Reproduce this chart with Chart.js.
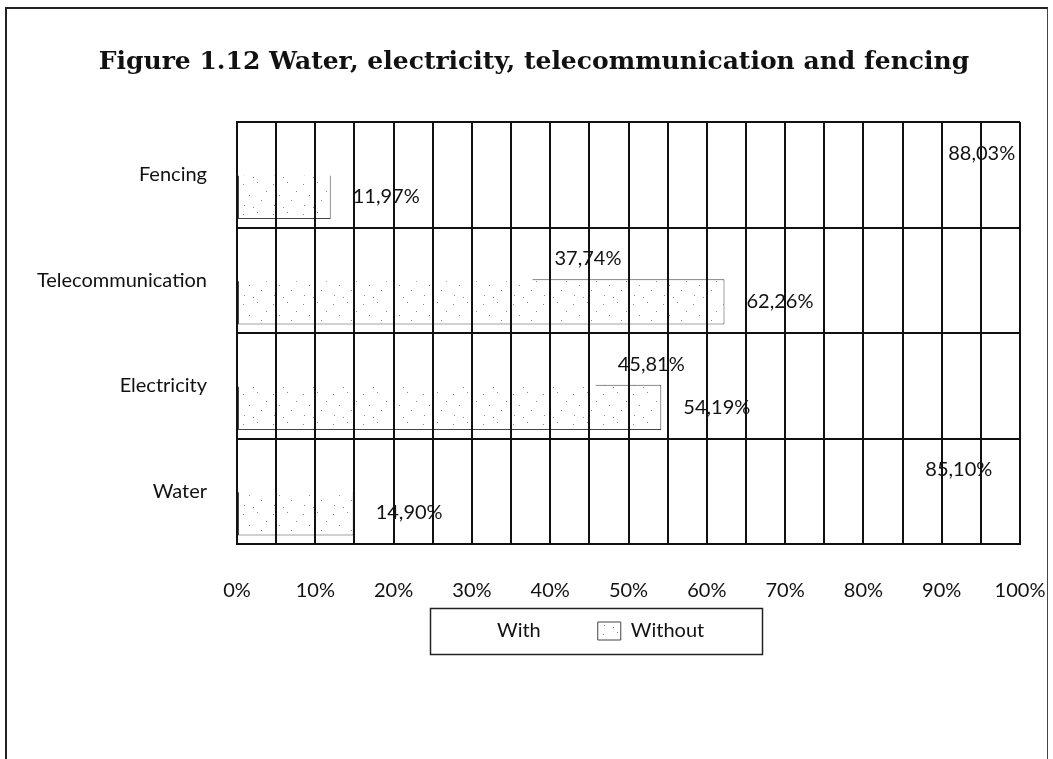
<!DOCTYPE html>
<html>
<head>
<meta charset="utf-8">
<script src="https://cdn.jsdelivr.net/npm/chart.js@4.4.1/dist/chart.umd.min.js"></script>
<style>
  html, body { margin: 0; padding: 0; background: #fff; }
  #wrap { position: relative; width: 1053px; height: 759px; overflow: hidden; }
  #frame { position: absolute; left: 5px; top: 7px; width: 1040px; height: 800px;
           border-top: 2px solid #222; border-left: 2px solid #222; border-right: 1px solid #444; }
  canvas { position: absolute; left: 0; top: 0; }
</style>
</head>
<body>
<div id="wrap">
  <div id="frame"></div>
  <canvas id="c" width="1053" height="759"></canvas>
</div>
<script>
const titleText = 'Figure 1.12 Water, electricity, telecommunication and fencing';
const categories = ['Fencing', 'Telecommunication', 'Electricity', 'Water'];
const withValues = [88.03, 37.74, 45.81, 85.10];
const withoutValues = [11.97, 62.26, 54.19, 14.90];
const seriesNames = ['With', 'Without'];
const xTickValues = [0, 10, 20, 30, 40, 50, 60, 70, 80, 90, 100];

// sparse stipple pattern for the "Without" bars
function makeStipple() {
  const c = document.createElement('canvas');
  c.width = 30; c.height = 30;
  const g = c.getContext('2d');
  g.fillStyle = '#ffffff';
  g.fillRect(0, 0, 30, 30);
  const dots = [[3,4],[17,2],[26,11],[9,15],[21,20],[4,25],[13,27]];
  g.fillStyle = '#8a8a8a';
  dots.forEach(d => g.fillRect(d[0], d[1], 1, 1));
  return g.createPattern(c, 'repeat');
}
const stipple = makeStipple();

const FONT = 'Lato, "Open Sans", sans-serif';
const FS = 20;

const valueLabels = {
  id: 'valueLabels',
  afterDatasetsDraw(chart) {
    const ctx = chart.ctx;
    ctx.save();
    ctx.font = FS + 'px ' + FONT;
    ctx.fillStyle = '#111';
    ctx.textBaseline = 'middle';
    ctx.textAlign = 'left';
    chart.data.datasets.forEach((ds, i) => {
      chart.getDatasetMeta(i).data.forEach((el, j) => {
        const v = ds.data[j];
        const txt = v.toFixed(2).replace('.', ',') + '%';
        ctx.fillText(txt, el.x + 22, el.y);
      });
    });
    ctx.restore();
  }
};

const LEG_PAD = 57;
const layoutTweaks = {
  id: 'layoutTweaks',
  afterLayout(chart) {
    const lg = chart.legend;
    const h = lg.height;
    lg.left = 464 - LEG_PAD; lg.right = 780; lg.width = lg.right - lg.left;
    lg.top = 564; lg.bottom = 564 + h;
    const t = chart.titleBlock;
    t.left = 15; t.right = 1053; t.width = t.right - t.left;
  },
  afterDraw(chart) {
    const ctx = chart.ctx;
    ctx.save();
    ctx.strokeStyle = '#222';
    ctx.lineWidth = 1.5;
    ctx.strokeRect(430.5, 608.5, 332, 46);
    ctx.restore();
  }
};

new Chart(document.getElementById('c'), {
  type: 'bar',
  data: {
    labels: categories,
    datasets: [
      {
        label: seriesNames[0],
        data: withValues,
        backgroundColor: '#ffffff',
        borderColor: '#ffffff',
        borderWidth: 0
      },
      {
        label: seriesNames[1],
        data: withoutValues,
        backgroundColor: stipple,
        borderColor: '#444',
        borderWidth: 1,
        borderSkipped: false
      }
    ]
  },
  options: {
    indexAxis: 'y',
    responsive: false,
    animation: false,
    devicePixelRatio: 1,
    datasets: { bar: { categoryPercentage: 0.82, barPercentage: 1.05 } },
    layout: { padding: { left: 0, right: 33, top: 0, bottom: 34 } },
    scales: {
      x: {
        min: 0, max: 100,
        ticks: {
          stepSize: 5,
          autoSkip: false,
          maxRotation: 0,
          padding: 35,
          color: '#111',
          font: { family: FONT, size: FS },
          callback: v => (xTickValues.includes(v) ? v + '%' : '')
        },
        grid: { z: 1, color: '#111', lineWidth: 2, drawTicks: false },
        border: { z: 1, color: '#111', width: 2 },
        afterFit: s => { s.paddingLeft = 0; s.paddingRight = 0; }
      },
      y: {
        ticks: { padding: 30, color: '#111', font: { family: FONT, size: FS } },
        grid: { z: 1, color: '#111', lineWidth: 2, drawTicks: false, offset: true },
        border: { z: 1, color: '#111', width: 2 },
        afterFit: s => { s.width = 237; }
      }
    },
    plugins: {
      title: {
        display: true,
        text: titleText,
        color: '#111',
        font: { family: '"DejaVu Serif", serif', size: 25, weight: 'bold', lineHeight: 1.2 },
        padding: { top: 47, bottom: 45 }
      },
      legend: {
        position: 'bottom',
        align: 'start',
        labels: {
          color: '#111',
          font: { family: FONT, size: FS },
          boxWidth: 23,
          boxHeight: 18,
          padding: LEG_PAD
        }
      },
      tooltip: { enabled: false }
    }
  },
  plugins: [valueLabels, layoutTweaks]
});
</script>
</body>
</html>
